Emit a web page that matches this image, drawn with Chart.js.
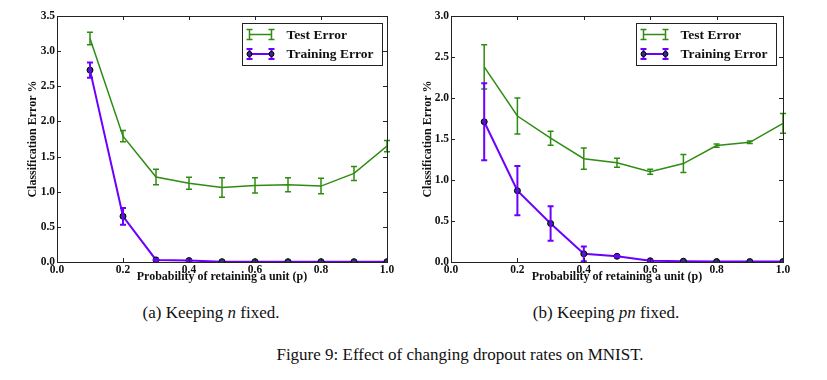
<!DOCTYPE html>
<html>
<head>
<meta charset="utf-8">
<script src="https://cdn.jsdelivr.net/npm/chart.js@4/dist/chart.umd.min.js"></script>
<style>
  html, body { margin: 0; padding: 0; background: #fff; }
  body { width: 827px; height: 380px; position: relative; overflow: hidden; }
  .wrap { position: absolute; top: 0; height: 290px; }
  .cap { position: absolute; font-family: "Liberation Serif", "DejaVu Serif", serif; font-size: 17px; color: #111; white-space: nowrap; transform: translate(-50%, -50%); }
</style>
</head>
<body>
<div class="wrap" style="left:0;width:410px;"><canvas id="cA" width="410" height="290"></canvas></div>
<div class="wrap" style="left:410px;width:417px;"><canvas id="cB" width="417" height="290"></canvas></div>
<div class="cap" style="left:211px;top:313px;">(a) Keeping <i>n</i> fixed.</div>
<div class="cap" style="left:606px;top:313px;">(b) Keeping <i>pn</i> fixed.</div>
<div class="cap" style="left:460px;top:355px;">Figure 9: Effect of changing dropout rates on MNIST.</div>
<script>
// ---- data ----
const retainProb = [0.1, 0.2, 0.3, 0.4, 0.5, 0.6, 0.7, 0.8, 0.9, 1.0];
const seriesNames = ["Test Error", "Training Error"];
const xTicks = [0.0, 0.2, 0.4, 0.6, 0.8, 1.0];

// (a) Keeping n fixed
const aTestError  = [3.18, 1.79, 1.21, 1.12, 1.06, 1.09, 1.10, 1.08, 1.26, 1.65];
const aTestStd    = [0.09, 0.08, 0.11, 0.085, 0.14, 0.11, 0.10, 0.11, 0.10, 0.08];
const aTrainError = [2.73, 0.65, 0.03, 0.02, 0.005, 0.005, 0.005, 0.005, 0.005, 0.005];
const aTrainStd   = [0.11, 0.12, 0.01, 0.005, 0, 0, 0, 0, 0, 0];
const aYMax = 3.5;

// (b) Keeping pn fixed
const bTestError  = [2.38, 1.78, 1.51, 1.26, 1.21, 1.10, 1.20, 1.42, 1.46, 1.69];
const bTestStd    = [0.27, 0.22, 0.085, 0.13, 0.055, 0.03, 0.11, 0.02, 0.015, 0.12];
const bTrainError = [1.71, 0.87, 0.47, 0.10, 0.07, 0.015, 0.01, 0.005, 0.005, 0.005];
const bTrainStd   = [0.47, 0.30, 0.21, 0.09, 0.01, 0.005, 0, 0, 0, 0];
const bYMax = 3.0;

const xTitle = "Probability of retaining a unit (p)";
const yTitle = "Classification Error %";

// ---- styles ----
const GREEN = "#2f8c12";
const PURPLE = "#6c00ff";
const MARKER = "#35307e";
const FONT = "'Liberation Serif', 'DejaVu Serif', serif";

const errorBarPlugin = {
  id: "errorBars",
  afterDatasetsDraw(chart) {
    const ctx = chart.ctx;
    const ys = chart.scales.y;
    chart.data.datasets.forEach((ds, di) => {
      const meta = chart.getDatasetMeta(di);
      ctx.save();
      ctx.strokeStyle = ds.borderColor;
      ctx.lineWidth = ds.errWidth;
      ds.errors.forEach((e, i) => {
        if (!e) return;
        const pt = meta.data[i];
        const v = ds.data[i].y;
        const y1 = ys.getPixelForValue(v + e), y2 = ys.getPixelForValue(v - e);
        const x = pt.x, c = 3;
        ctx.beginPath();
        ctx.moveTo(x, y1); ctx.lineTo(x, y2);
        ctx.moveTo(x - c, y1); ctx.lineTo(x + c, y1);
        ctx.moveTo(x - c, y2); ctx.lineTo(x + c, y2);
        ctx.stroke();
      });
      ctx.restore();
    });
  },
  afterDraw(chart) {
    const ctx = chart.ctx;
    const a = chart.chartArea;
    const xs = chart.scales.x, ys = chart.scales.y;
    ctx.save();
    ctx.strokeStyle = "#222";
    ctx.lineWidth = 1;
    ctx.strokeRect(Math.round(a.left) + 0.5, Math.round(a.top) + 0.5, Math.round(a.right - a.left), Math.round(a.bottom - a.top));
    ctx.beginPath();
    const L = 4;
    ys.ticks.forEach(t => {
      const p = Math.round(ys.getPixelForValue(t.value)) + 0.5;
      ctx.moveTo(a.left, p); ctx.lineTo(a.left + L, p);
      ctx.moveTo(a.right, p); ctx.lineTo(a.right - L, p);
    });
    xs.ticks.forEach(t => {
      const p = Math.round(xs.getPixelForValue(t.value)) + 0.5;
      ctx.moveTo(p, a.bottom); ctx.lineTo(p, a.bottom - L);
      ctx.moveTo(p, a.top); ctx.lineTo(p, a.top + L);
    });
    ctx.stroke();

    // legend
    const off = chart.options.plugins.errorBars.legendRight;
    const w = 140, h = 42;
    const bx = Math.round(a.right - off - w) + 0.5, by = Math.round(a.top + 7) + 0.5;
    ctx.fillStyle = "#fff";
    ctx.fillRect(bx, by, w, h);
    ctx.strokeStyle = "#222";
    ctx.lineWidth = 1;
    ctx.strokeRect(bx, by, w, h);
    const x0 = bx + 7, x1 = bx + 29;
    const rows = [by + 11, by + 30.5];
    chart.data.datasets.slice().sort((p, q) => q.order - p.order).forEach((ds, k) => {
      const yy = rows[k];
      ctx.strokeStyle = ds.borderColor;
      ctx.lineWidth = ds.borderWidth;
      ctx.beginPath(); ctx.moveTo(x0, yy); ctx.lineTo(x1, yy); ctx.stroke();
      ctx.lineWidth = ds.errWidth;
      ctx.beginPath();
      [x0, x1].forEach(xx => {
        ctx.moveTo(xx, yy - 5); ctx.lineTo(xx, yy + 5);
        ctx.moveTo(xx - 3, yy - 5); ctx.lineTo(xx + 3, yy - 5);
        ctx.moveTo(xx - 3, yy + 5); ctx.lineTo(xx + 3, yy + 5);
      });
      ctx.stroke();
      if (ds.pointRadius > 0) {
        [x0, x1].forEach(xx => {
          ctx.beginPath(); ctx.arc(xx, yy, 2.5, 0, Math.PI * 2);
          ctx.fillStyle = ds.pointBackgroundColor; ctx.fill();
          ctx.strokeStyle = ds.pointBorderColor; ctx.lineWidth = 1; ctx.stroke();
        });
      }
      ctx.fillStyle = "#111";
      ctx.font = "bold 13.5px " + FONT;
      ctx.textBaseline = "middle";
      ctx.textAlign = "left";
      ctx.fillText(ds.label, bx + 44, yy + 1);
    });
    ctx.restore();
  }
};

function pts(vals) { return vals.map((v, i) => ({ x: retainProb[i], y: v })); }

function makeChart(id, test, testStd, train, trainStd, yMax, opts) {
  return new Chart(document.getElementById(id), {
    type: "line",
    data: {
      datasets: [
        {
          label: seriesNames[0], data: pts(test), errors: testStd, errWidth: 1.5,
          borderColor: GREEN, borderWidth: 1.5, pointRadius: 0, order: 1, tension: 0
        },
        {
          label: seriesNames[1], data: pts(train), errors: trainStd, errWidth: 2,
          borderColor: PURPLE, borderWidth: 2, pointRadius: 3,
          pointBackgroundColor: MARKER, pointBorderColor: "#000", pointBorderWidth: 1,
          order: 0, tension: 0
        }
      ]
    },
    options: {
      responsive: false,
      animation: false,
      devicePixelRatio: 1,
      layout: { padding: { top: 16, right: opts.padRight, left: 0, bottom: 0 } },
      plugins: {
        legend: { display: false },
        tooltip: { enabled: false },
        errorBars: { legendRight: opts.legendRight }
      },
      scales: {
        x: {
          type: "linear", min: 0, max: 1,
          afterBuildTicks: s => { s.ticks = xTicks.map(v => ({ value: v })); },
          grid: { display: false, drawTicks: false },
          border: { display: false },
          ticks: {
            padding: 1, color: "#111",
            font: { family: FONT, size: 11.5, weight: "bold" },
            callback: v => v.toFixed(1)
          },
          title: {
            display: true, text: xTitle, color: "#111",
            font: { family: FONT, size: 12, weight: "bold" },
            padding: { top: 0, bottom: 6 }
          },
          afterFit: s => { s.height = 28; }
        },
        y: {
          min: 0, max: yMax,
          grid: { display: false, drawTicks: false },
          border: { display: false },
          ticks: {
            stepSize: 0.5, padding: 2, color: "#111",
            font: { family: FONT, size: 11.5, weight: "bold" },
            callback: v => v.toFixed(1)
          },
          title: {
            display: true, text: yTitle, color: "#111",
            font: { family: FONT, size: 12, weight: "bold" },
            padding: { top: opts.titlePad, bottom: 0 }
          },
          afterFit: s => { s.width = opts.yWidth; }
        }
      }
    },
    plugins: [errorBarPlugin]
  });
}

makeChart("cA", aTestError, aTestStd, aTrainError, aTrainStd, aYMax,
  { padRight: 23, yWidth: 57, titlePad: 26, legendRight: 5 });
makeChart("cB", bTestError, bTestStd, bTrainError, bTrainStd, bYMax,
  { padRight: 44, yWidth: 41, titlePad: 11, legendRight: 7 });
</script>
</body>
</html>
